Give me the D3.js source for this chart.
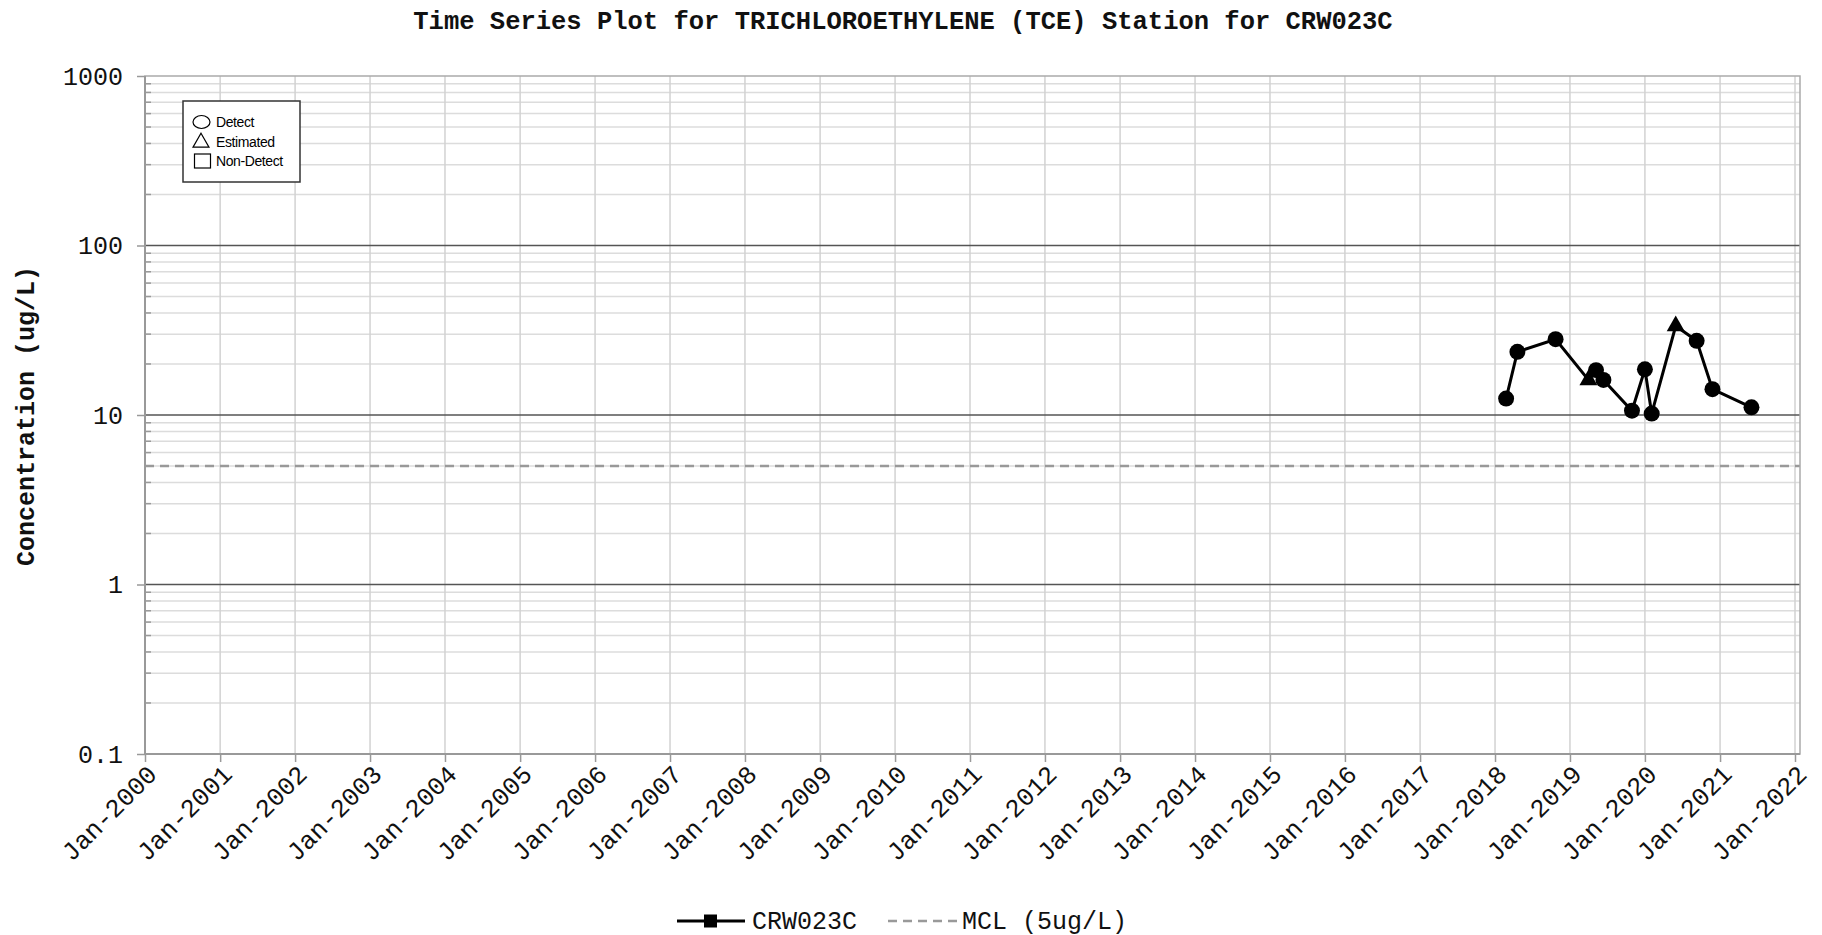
<!DOCTYPE html>
<html>
<head>
<meta charset="utf-8">
<script src="https://cdn.jsdelivr.net/npm/d3@7/dist/d3.min.js"></script>
<style>
  html, body { margin: 0; padding: 0; background: #fff; }
  svg { display: block; }
</style>
</head>
<body>
<script>
// ---------------- DATA ----------------
const sampleDates = ["2018-02-24","2018-04-20","2018-10-23","2019-04-01","2019-05-08","2019-06-13",
                     "2019-10-30","2020-01-01","2020-02-03","2020-05-30","2020-09-09","2020-11-25","2021-06-03"];
const sampleValues = [12.5, 23.6, 28, 16.1, 18.4, 16.1, 10.6, 18.6, 10.2, 33.5, 27.4, 14.2, 11.1];
const sampleFlags  = ["Detect","Detect","Detect","Estimated","Detect","Detect",
                      "Detect","Detect","Detect","Estimated","Detect","Detect","Detect"];
const mclValue = 5;
const yTickValues = [0.1, 1, 10, 100, 1000];
const yTickLabels = ["0.1", "1", "10", "100", "1000"];
const xTickLabels = ["Jan-2000","Jan-2001","Jan-2002","Jan-2003","Jan-2004","Jan-2005","Jan-2006","Jan-2007",
                     "Jan-2008","Jan-2009","Jan-2010","Jan-2011","Jan-2012","Jan-2013","Jan-2014","Jan-2015",
                     "Jan-2016","Jan-2017","Jan-2018","Jan-2019","Jan-2020","Jan-2021","Jan-2022"];
const titleText = "Time Series Plot for TRICHLOROETHYLENE (TCE) Station for CRW023C";
const yLabelText = "Concentration (ug/L)";
const seriesName = "CRW023C";
const mclName = "MCL (5ug/L)";
const symbolLegend = ["Detect", "Estimated", "Non-Detect"];

// ---------------- LAYOUT ----------------
const W = 1822, H = 935;
const L = 145, R = 1795, T = 76, B = 754, RB = 1800;
const mono = "'Liberation Mono', 'DejaVu Sans Mono', monospace";

const svg = d3.select("body").append("svg").attr("width", W).attr("height", H);

const parse = d3.timeParse("%Y-%m-%d");
const xTickDates = xTickLabels.map(s => parse(s.slice(4) + "-01-01"));
const x = d3.scaleTime().domain([xTickDates[0], xTickDates[xTickDates.length - 1]]).range([L, R]);
const y = d3.scaleLog().domain([0.1, 1000]).range([B, T]);

const data = sampleDates.map((d, i) => ({ date: parse(d), value: sampleValues[i], flag: sampleFlags[i] }));

// minor horizontal gridlines
const minorVals = [];
for (let e = -1; e < 3; e++) for (let k = 2; k <= 9; k++) minorVals.push(k * Math.pow(10, e));
svg.append("g").selectAll("line").data(minorVals).join("line")
  .attr("x1", L).attr("x2", RB).attr("y1", d => y(d)).attr("y2", d => y(d))
  .attr("stroke", "#dcdcdc").attr("stroke-width", 1.5);
// minor tick marks inside left axis
svg.append("g").selectAll("line").data(minorVals).join("line")
  .attr("x1", L).attr("x2", L + 6).attr("y1", d => y(d)).attr("y2", d => y(d))
  .attr("stroke", "#999").attr("stroke-width", 1.5);

// vertical gridlines
svg.append("g").selectAll("line").data(xTickDates).join("line")
  .attr("x1", d => x(d)).attr("x2", d => x(d)).attr("y1", T).attr("y2", B)
  .attr("stroke", "#d2d2d2").attr("stroke-width", 1.5);

// major horizontal lines
svg.append("g").selectAll("line").data(yTickValues.slice(1, 4)).join("line")
  .attr("x1", L).attr("x2", RB).attr("y1", d => y(d)).attr("y2", d => y(d))
  .attr("stroke", "#555").attr("stroke-width", 1.5);

// MCL line
svg.append("line").attr("x1", L).attr("x2", RB).attr("y1", y(mclValue)).attr("y2", y(mclValue))
  .attr("stroke", "#999").attr("stroke-width", 2.5).attr("stroke-dasharray", "9,6");

// plot border
svg.append("rect").attr("x", L).attr("y", T).attr("width", RB - L).attr("height", B - T)
  .attr("fill", "none").attr("stroke", "#aaa").attr("stroke-width", 1.5);
svg.append("line").attr("x1", L).attr("x2", L).attr("y1", T).attr("y2", B).attr("stroke", "#999").attr("stroke-width", 2);
svg.append("line").attr("x1", L).attr("x2", RB).attr("y1", B).attr("y2", B).attr("stroke", "#999").attr("stroke-width", 2);

// y axis
const yAxis = d3.axisLeft(y).tickValues(yTickValues).tickFormat((d, i) => yTickLabels[i]).tickSize(8).tickPadding(14);
const gy = svg.append("g").attr("transform", `translate(${L},0)`).call(yAxis);
gy.select(".domain").remove();
gy.selectAll(".tick line").attr("stroke", "#999").attr("stroke-width", 1.5);
gy.selectAll(".tick text").attr("font-family", mono).attr("font-size", 25).attr("fill", "#111");

// x axis
const xAxis = d3.axisBottom(x).tickValues(xTickDates).tickFormat((d, i) => xTickLabels[i]).tickSize(8);
const gx = svg.append("g").attr("transform", `translate(0,${B})`).call(xAxis);
gx.select(".domain").remove();
gx.selectAll(".tick line").attr("stroke", "#999").attr("stroke-width", 1.5);
gx.selectAll(".tick text")
  .attr("font-family", mono).attr("font-size", 25.5).attr("fill", "#111")
  .attr("text-anchor", "end").attr("dy", null)
  .attr("transform", "translate(1,10) rotate(-45)")
  .attr("y", 0).attr("x", 0).attr("dominant-baseline", "hanging");

// data line
const line = d3.line().x(d => x(d.date)).y(d => y(d.value));
svg.append("path").datum(data).attr("d", line).attr("fill", "none").attr("stroke", "#000").attr("stroke-width", 3);

// markers
svg.append("g").selectAll("path").data(data).join("path")
  .attr("transform", d => `translate(${x(d.date)},${y(d.value)})`)
  .attr("d", d => d.flag === "Estimated"
    ? d3.symbol().type(d3.symbolTriangle).size(140)()
    : d3.symbol().type(d3.symbolCircle).size(200)())
  .attr("fill", "#000");

// symbol legend box
const lg = svg.append("g");
lg.append("rect").attr("x", 183).attr("y", 101).attr("width", 117).attr("height", 81)
  .attr("fill", "#fff").attr("stroke", "#333").attr("stroke-width", 1.5);
const rows = [122, 141.5, 161];
lg.append("ellipse").attr("cx", 201.5).attr("cy", rows[0]).attr("rx", 8.5).attr("ry", 6.5)
  .attr("fill", "none").attr("stroke", "#000").attr("stroke-width", 1.2);
lg.append("path").attr("transform", `translate(201,${rows[1] + 1})`)
  .attr("d", d3.symbol().type(d3.symbolTriangle).size(110)())
  .attr("fill", "none").attr("stroke", "#000").attr("stroke-width", 1.2);
lg.append("rect").attr("x", 194.5).attr("y", rows[2] - 7).attr("width", 16).attr("height", 14)
  .attr("fill", "none").attr("stroke", "#000").attr("stroke-width", 1.2);
lg.selectAll("text").data(symbolLegend).join("text")
  .attr("x", 216).attr("y", (d, i) => rows[i] + 5)
  .attr("font-family", "'Liberation Sans', Arial, sans-serif").attr("font-size", 14)
  .attr("letter-spacing", -0.4).attr("fill", "#000").text(d => d);

// title
svg.append("text").attr("x", 903).attr("y", 29).attr("text-anchor", "middle")
  .attr("font-family", mono).attr("font-weight", "bold").attr("font-size", 25.5).attr("fill", "#111")
  .text(titleText);

// y label
svg.append("text").attr("transform", `translate(34,${(T + B) / 2 + 1}) rotate(-90)`)
  .attr("text-anchor", "middle")
  .attr("font-family", mono).attr("font-weight", "bold").attr("font-size", 25).attr("fill", "#111")
  .text(yLabelText);

// bottom legend
const bl = svg.append("g");
bl.append("line").attr("x1", 677).attr("x2", 745).attr("y1", 921).attr("y2", 921).attr("stroke", "#000").attr("stroke-width", 3);
bl.append("rect").attr("x", 704).attr("y", 914.5).attr("width", 13).attr("height", 13).attr("fill", "#000");
bl.append("text").attr("x", 752).attr("y", 928.5).attr("font-family", mono).attr("font-size", 25).attr("fill", "#111").text(seriesName);
bl.append("line").attr("x1", 888).attr("x2", 958).attr("y1", 921).attr("y2", 921)
  .attr("stroke", "#999").attr("stroke-width", 2.5).attr("stroke-dasharray", "9,6");
bl.append("text").attr("x", 962).attr("y", 928.5).attr("font-family", mono).attr("font-size", 25).attr("fill", "#111").text(mclName);
</script>
</body>
</html>
